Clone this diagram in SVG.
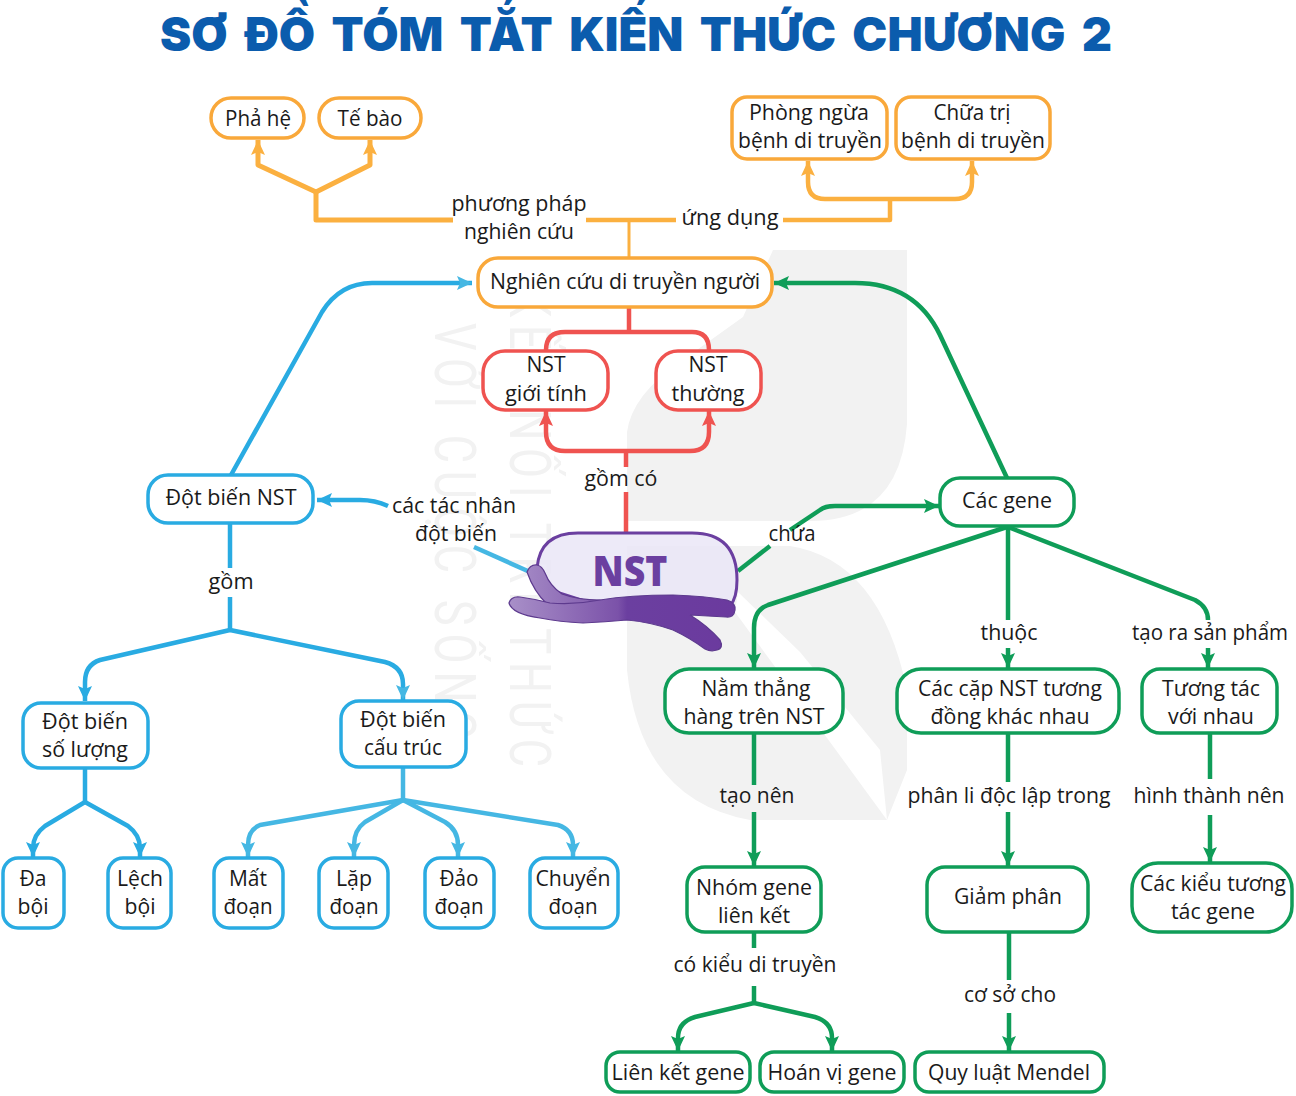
<svg xmlns="http://www.w3.org/2000/svg" width="1296" height="1096" viewBox="0 0 1296 1096">
<style>
text{font-family:"Open Sans","Noto Sans","DejaVu Sans",sans-serif;font-size:22px;fill:#1a1a1a;text-anchor:middle}
g[id^=n-] text,#labels text{transform:translateY(-.7px)}
.title{font-family:"Inter","Roboto",sans-serif;font-size:47px;font-weight:900;fill:#0b5cad;word-spacing:7px}
.wm{font-family:"Roboto",sans-serif;font-size:58px;font-weight:400;fill:#f2f2f2;text-anchor:start}
.nsttxt{font-family:"Open Sans",sans-serif;font-size:42px;font-weight:800;fill:#6b3fa0}
rect{fill:#fff;stroke-width:3.5}
.o rect{stroke:#f9a83a}.r rect{stroke:#ef5350}.b rect{stroke:#29abe2}.g rect{stroke:#0f9d58}
#connectors path{fill:none;stroke-width:4.5;stroke-linejoin:round}
.co{stroke:#fbb040}.cr{stroke:#ef5350}.cb{stroke:#29abe2}.cl{stroke:#45b7e3}.cg{stroke:#0f9d58}
</style>
<defs>
<marker id="ao" markerUnits="userSpaceOnUse" markerWidth="18" markerHeight="18" refX="15" refY="8" orient="auto"><path d="M0 1L15 8L0 15L3 8Z" fill="#fbb040"/></marker>
<marker id="ar" markerUnits="userSpaceOnUse" markerWidth="18" markerHeight="18" refX="15" refY="8" orient="auto"><path d="M0 1L15 8L0 15L3 8Z" fill="#ef5350"/></marker>
<marker id="ab" markerUnits="userSpaceOnUse" markerWidth="18" markerHeight="18" refX="15" refY="8" orient="auto"><path d="M0 1L15 8L0 15L3 8Z" fill="#29abe2"/></marker>
<marker id="al" markerUnits="userSpaceOnUse" markerWidth="18" markerHeight="18" refX="15" refY="8" orient="auto"><path d="M0 1L15 8L0 15L3 8Z" fill="#45b7e3"/></marker>
<marker id="ag" markerUnits="userSpaceOnUse" markerWidth="18" markerHeight="18" refX="15" refY="8" orient="auto"><path d="M0 1L15 8L0 15L3 8Z" fill="#0f9d58"/></marker>
<linearGradient id="arm" gradientUnits="userSpaceOnUse" x1="510" y1="0" x2="735" y2="0"><stop offset="0" stop-color="#a88fc8"/><stop offset=".48" stop-color="#7b52a9"/><stop offset=".52" stop-color="#6b3fa0"/><stop offset="1" stop-color="#6b3a9e"/></linearGradient>
</defs>
<rect x="0" y="0" width="1296" height="1096" style="fill:#fff;stroke:none"/>
<g id="watermark">
<path d="M773 250H907V424Q900 521 810 521H627V432Q632 395 680 362L743 317Z" fill="#f2f2f2"/>
<path d="M627 546H790Q880 560 907 690V770L887 820H750Q640 800 627 670Z" fill="#f2f2f2"/>
<path d="M738 592L800 652L880 750L887 820L735 612Z" fill="#fff"/>
<text class="wm" transform="translate(435 323) rotate(90) scale(.75 1)" textLength="556" lengthAdjust="spacing">VỚI CUỘC SỐNG</text>
<text class="wm" transform="translate(510 290) rotate(90) scale(.75 1)" textLength="636" lengthAdjust="spacing">KẾT NỐI TRI THỨC</text>
</g>
<text class="title" x="636" y="51" textLength="952" lengthAdjust="spacingAndGlyphs">SƠ ĐỒ TÓM TẮT KIẾN THỨC CHƯƠNG 2</text>
<g id="connectors">
<path class="co" d="M453 220H316V190" style="stroke-width:5"/>
<path class="co" d="M316 192L258 165V140" marker-end="url(#ao)" style="stroke-width:5"/>
<path class="co" d="M316 192L370 165V140" marker-end="url(#ao)" style="stroke-width:5"/>
<path class="co" d="M586 220H676"/>
<path class="co" d="M629 220V258" style="stroke-width:3"/>
<path class="co" d="M783 220H890V199"/>
<path class="co" d="M890 199H825Q808 199 808 182V161" marker-end="url(#ao)"/>
<path class="co" d="M890 199H955Q972 199 972 182V161" marker-end="url(#ao)"/>
<path class="cr" d="M629 307V332"/>
<path class="cr" d="M546 350Q546 332 565 332H692Q709 332 709 350"/>
<path class="cr" d="M626 533V492"/>
<path class="cr" d="M626 467V451"/>
<path class="cr" d="M626 451H565Q546 451 546 432V411" marker-end="url(#ar)"/>
<path class="cr" d="M626 451H690Q709 451 709 432V411" marker-end="url(#ar)"/>
<path class="cb" d="M231 475L322 312Q340 283 372 283H472" marker-end="url(#al)"/>
<path class="cl" d="M530 572L474 547"/>
<path class="cb" d="M388 506Q375 500 360 500H317" marker-end="url(#ab)"/>
<path class="cb" d="M230 523V568"/>
<path class="cb" d="M230 597V630"/>
<path class="cb" d="M230 630L100 660Q85 665 85 682V701" marker-end="url(#ab)"/>
<path class="cb" d="M230 630L385 662Q403 667 403 684V700" marker-end="url(#al)"/>
<path class="cb" d="M85 768V802"/>
<path class="cb" d="M85 802L45 826Q33 835 33 848V857" marker-end="url(#ab)"/>
<path class="cb" d="M85 802L128 826Q140 835 140 848V857" marker-end="url(#ab)"/>
<path class="cl" d="M403 767V800"/>
<path class="cl" d="M403 800L260 825Q248 830 248 845V857" marker-end="url(#al)"/>
<path class="cl" d="M403 800L365 822Q354 830 354 845V857" marker-end="url(#al)"/>
<path class="cl" d="M403 800L445 822Q458 830 458 845V857" marker-end="url(#al)"/>
<path class="cl" d="M403 800L558 825Q573 830 573 845V857" marker-end="url(#al)"/>
<path class="cg" d="M1007 478L940 335Q915 283 855 283H774" marker-end="url(#ag)"/>
<path class="cg" d="M738 571L770 546"/>
<path class="cg" d="M790 530L820 510Q825 506 835 506H939" marker-end="url(#ag)"/>
<path class="cg" d="M1007 527L768 605Q754 610 754 628V668" marker-end="url(#ag)"/>
<path class="cg" d="M1008 527V620"/>
<path class="cg" d="M1008 648V668" marker-end="url(#ag)"/>
<path class="cg" d="M1008 527L1195 600Q1208 607 1208 620"/>
<path class="cg" d="M1208 648V668" marker-end="url(#ag)"/>
<path class="cg" d="M754 733V785"/>
<path class="cg" d="M754 812V866" marker-end="url(#ag)"/>
<path class="cg" d="M1008 733V782"/>
<path class="cg" d="M1008 812V866" marker-end="url(#ag)"/>
<path class="cg" d="M1210 733V779"/>
<path class="cg" d="M1210 815V862" marker-end="url(#ag)"/>
<path class="cg" d="M754 932V948"/>
<path class="cg" d="M754 986V1003"/>
<path class="cg" d="M754 1003L695 1017Q678 1022 678 1038V1051" marker-end="url(#ag)"/>
<path class="cg" d="M754 1003L815 1017Q832 1022 832 1038V1051" marker-end="url(#ag)"/>
<path class="cg" d="M1009 932V980"/>
<path class="cg" d="M1009 1013V1051" marker-end="url(#ag)"/>
</g>
<g id="labels">
<text x="519" y="212" textLength="135" lengthAdjust="spacingAndGlyphs">phương pháp</text>
<text x="519" y="240" textLength="110" lengthAdjust="spacingAndGlyphs">nghiên cứu</text>
<text x="730" y="226" textLength="97" lengthAdjust="spacingAndGlyphs">ứng dụng</text>
<text x="621" y="487" textLength="73" lengthAdjust="spacingAndGlyphs">gồm có</text>
<text x="454" y="514" textLength="124" lengthAdjust="spacingAndGlyphs">các tác nhân</text>
<text x="456" y="542" textLength="82" lengthAdjust="spacingAndGlyphs">đột biến</text>
<text x="792" y="542" textLength="47" lengthAdjust="spacingAndGlyphs">chứa</text>
<text x="231" y="590" textLength="45" lengthAdjust="spacingAndGlyphs">gồm</text>
<text x="1009" y="641" textLength="57" lengthAdjust="spacingAndGlyphs">thuộc</text>
<text x="1210" y="641" textLength="156" lengthAdjust="spacingAndGlyphs">tạo ra sản phẩm</text>
<text x="757" y="804" textLength="75" lengthAdjust="spacingAndGlyphs">tạo nên</text>
<text x="1009" y="804" textLength="203" lengthAdjust="spacingAndGlyphs">phân li độc lập trong</text>
<text x="1209" y="804" textLength="151" lengthAdjust="spacingAndGlyphs">hình thành nên</text>
<text x="755" y="973" textLength="163" lengthAdjust="spacingAndGlyphs">có kiểu di truyền</text>
<text x="1010" y="1003" textLength="92" lengthAdjust="spacingAndGlyphs">cơ sở cho</text>
</g>
<g id="nst">
<path d="M537 568Q540 533 578 533H692Q737 533 737 580Q737 598 730 606L600 606L550 590Z" fill="#e9e5f6" fill-opacity=".8" stroke="#6b3fa0" stroke-width="3"/>
<path d="M527 572Q530 564 537 565Q542 566 545 573Q550 586 562 594Q578 600 600 600L600 606L547 604Q534 592 527 572Z" fill="url(#arm)" stroke="#5d3a8e" stroke-width="1.2"/>
<path d="M509 603Q511 596 520 597Q535 599 550 603Q575 605 600 600Q630 595 673 595Q705 596 727 600Q736 603 735 610Q734 618 726 617Q708 616 690 615Q708 626 720 640Q724 648 717 650Q711 652 705 649Q690 638 673 630Q650 622 627 620Q605 622 583 623Q560 622 540 618Q512 614 509 603Z" fill="url(#arm)" stroke="#5d3a8e" stroke-width="1.2"/>
<text class="nsttxt" x="630" y="586" textLength="75" lengthAdjust="spacingAndGlyphs">NST</text>
</g>
<g id="n-pha-he" class="o"><rect x="211" y="98" width="93" height="40" rx="20"/><text x="258" y="127" textLength="66" lengthAdjust="spacingAndGlyphs">Phả hệ</text></g>
<g id="n-te-bao" class="o"><rect x="319" y="98" width="102" height="40" rx="20"/><text x="370" y="127" textLength="65" lengthAdjust="spacingAndGlyphs">Tế bào</text></g>
<g id="n-phong-ngua" class="o"><rect x="732" y="97" width="155" height="62" rx="15"/><text x="809" y="121" textLength="120" lengthAdjust="spacingAndGlyphs">Phòng ngừa</text><text x="810" y="149" textLength="144" lengthAdjust="spacingAndGlyphs">bệnh di truyền</text></g>
<g id="n-chua-tri" class="o"><rect x="896" y="97" width="154" height="62" rx="15"/><text x="972" y="121" textLength="77" lengthAdjust="spacingAndGlyphs">Chữa trị</text><text x="973" y="149" textLength="144" lengthAdjust="spacingAndGlyphs">bệnh di truyền</text></g>
<g id="n-nghien-cuu" class="o"><rect x="478" y="258" width="294" height="49" rx="20"/><text x="625" y="290" textLength="270" lengthAdjust="spacingAndGlyphs">Nghiên cứu di truyền người</text></g>
<g id="n-nst-gioi-tinh" class="r"><rect x="483" y="351" width="125" height="59" rx="22"/><text x="546" y="373" textLength="39" lengthAdjust="spacingAndGlyphs">NST</text><text x="546" y="402" textLength="82" lengthAdjust="spacingAndGlyphs">giới tính</text></g>
<g id="n-nst-thuong" class="r"><rect x="656" y="351" width="105" height="59" rx="22"/><text x="708" y="373" textLength="39" lengthAdjust="spacingAndGlyphs">NST</text><text x="708" y="402" textLength="73" lengthAdjust="spacingAndGlyphs">thường</text></g>
<g id="n-dot-bien-nst" class="b"><rect x="148" y="475" width="165" height="48" rx="20"/><text x="231" y="506" textLength="131" lengthAdjust="spacingAndGlyphs">Đột biến NST</text></g>
<g id="n-so-luong" class="b"><rect x="23" y="703" width="125" height="65" rx="18"/><text x="85" y="730" textLength="86" lengthAdjust="spacingAndGlyphs">Đột biến</text><text x="85" y="758" textLength="86" lengthAdjust="spacingAndGlyphs">số lượng</text></g>
<g id="n-cau-truc" class="b"><rect x="341" y="701" width="125" height="66" rx="18"/><text x="403" y="728" textLength="86" lengthAdjust="spacingAndGlyphs">Đột biến</text><text x="403" y="756" textLength="78" lengthAdjust="spacingAndGlyphs">cấu trúc</text></g>
<g id="n-da-boi" class="b"><rect x="3" y="858" width="61" height="70" rx="15"/><text x="33" y="887" textLength="27" lengthAdjust="spacingAndGlyphs">Đa</text><text x="33" y="915" textLength="31" lengthAdjust="spacingAndGlyphs">bội</text></g>
<g id="n-lech-boi" class="b"><rect x="108" y="858" width="63" height="70" rx="15"/><text x="140" y="887" textLength="46" lengthAdjust="spacingAndGlyphs">Lệch</text><text x="140" y="915" textLength="31" lengthAdjust="spacingAndGlyphs">bội</text></g>
<g id="n-mat-doan" class="b"><rect x="214" y="858" width="69" height="70" rx="15"/><text x="248" y="887" textLength="38" lengthAdjust="spacingAndGlyphs">Mất</text><text x="248" y="915" textLength="49" lengthAdjust="spacingAndGlyphs">đoạn</text></g>
<g id="n-lap-doan" class="b"><rect x="319" y="858" width="69" height="70" rx="15"/><text x="354" y="887" textLength="36" lengthAdjust="spacingAndGlyphs">Lặp</text><text x="354" y="915" textLength="49" lengthAdjust="spacingAndGlyphs">đoạn</text></g>
<g id="n-dao-doan" class="b"><rect x="425" y="858" width="69" height="70" rx="15"/><text x="459" y="887" textLength="39" lengthAdjust="spacingAndGlyphs">Đảo</text><text x="459" y="915" textLength="49" lengthAdjust="spacingAndGlyphs">đoạn</text></g>
<g id="n-chuyen-doan" class="b"><rect x="530" y="858" width="88" height="70" rx="15"/><text x="573" y="887" textLength="75" lengthAdjust="spacingAndGlyphs">Chuyển</text><text x="573" y="915" textLength="49" lengthAdjust="spacingAndGlyphs">đoạn</text></g>
<g id="n-cac-gene" class="g"><rect x="940" y="478" width="134" height="48" rx="20"/><text x="1007" y="509" textLength="90" lengthAdjust="spacingAndGlyphs">Các gene</text></g>
<g id="n-nam-thang" class="g"><rect x="665" y="669" width="178" height="64" rx="24"/><text x="756" y="697" textLength="109" lengthAdjust="spacingAndGlyphs">Nằm thẳng</text><text x="754" y="725" textLength="141" lengthAdjust="spacingAndGlyphs">hàng trên NST</text></g>
<g id="n-cac-cap" class="g"><rect x="897" y="669" width="222" height="64" rx="24"/><text x="1010" y="697" textLength="184" lengthAdjust="spacingAndGlyphs">Các cặp NST tương</text><text x="1010" y="725" textLength="159" lengthAdjust="spacingAndGlyphs">đồng khác nhau</text></g>
<g id="n-tuong-tac" class="g"><rect x="1142" y="669" width="135" height="64" rx="18"/><text x="1211" y="697" textLength="98" lengthAdjust="spacingAndGlyphs">Tương tác</text><text x="1211" y="725" textLength="86" lengthAdjust="spacingAndGlyphs">với nhau</text></g>
<g id="n-nhom-gene" class="g"><rect x="687" y="867" width="134" height="65" rx="18"/><text x="754" y="896" textLength="116" lengthAdjust="spacingAndGlyphs">Nhóm gene</text><text x="754" y="924" textLength="72" lengthAdjust="spacingAndGlyphs">liên kết</text></g>
<g id="n-giam-phan" class="g"><rect x="927" y="867" width="161" height="65" rx="18"/><text x="1008" y="905" textLength="108" lengthAdjust="spacingAndGlyphs">Giảm phân</text></g>
<g id="n-cac-kieu" class="g"><rect x="1132" y="863" width="160" height="69" rx="26"/><text x="1213" y="892" textLength="146" lengthAdjust="spacingAndGlyphs">Các kiểu tương</text><text x="1213" y="920" textLength="84" lengthAdjust="spacingAndGlyphs">tác gene</text></g>
<g id="n-lien-ket" class="g"><rect x="606" y="1052" width="144" height="40" rx="14"/><text x="678" y="1081" textLength="133" lengthAdjust="spacingAndGlyphs">Liên kết gene</text></g>
<g id="n-hoan-vi" class="g"><rect x="760" y="1052" width="144" height="40" rx="14"/><text x="832" y="1081" textLength="129" lengthAdjust="spacingAndGlyphs">Hoán vị gene</text></g>
<g id="n-mendel" class="g"><rect x="915" y="1052" width="189" height="40" rx="14"/><text x="1009" y="1081" textLength="162" lengthAdjust="spacingAndGlyphs">Quy luật Mendel</text></g>
</svg>
